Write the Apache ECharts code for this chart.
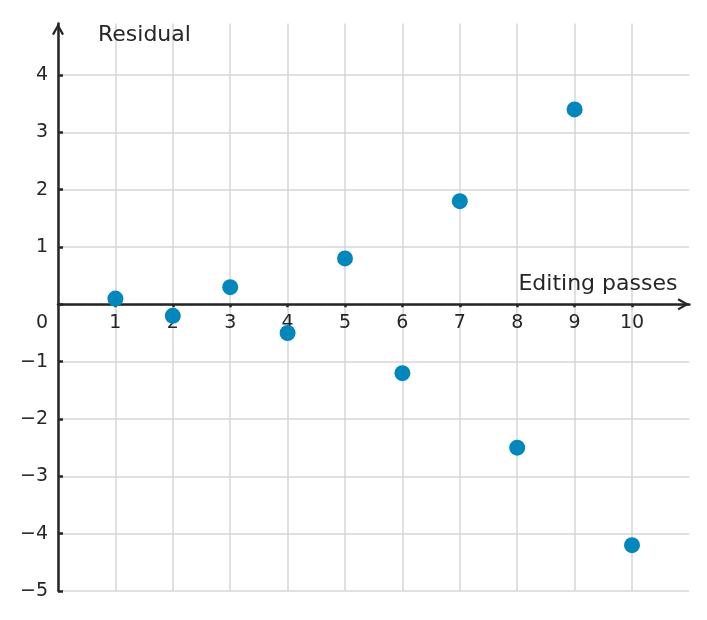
<!DOCTYPE html>
<html>
<head>
<meta charset="utf-8">
<script src="https://cdn.jsdelivr.net/npm/echarts@6/dist/echarts.min.js"></script>
<style>
  html, body { margin: 0; padding: 0; background: #fff; }
  #chart { width: 707px; height: 620px; }
</style>
</head>
<body>
<div id="chart"></div>
<script>
// residual per editing pass
const passes = [1, 2, 3, 4, 5, 6, 7, 8, 9, 10];
const residuals = [0.1, -0.2, 0.3, -0.5, 0.8, -1.2, 1.8, -2.5, 3.4, -4.2];

const ink = '#262626';
const gridColor = '#d6d6d6';
const font = 'DejaVu Sans';
// open chevron, pointing up (echarts turns it to the axis direction)
const chevron = 'path://M6,0 L12,10.6 L10.1,11.8 L6,4.4 L1.9,11.8 L0,10.6 Z';

const minus = v => String(v).replace('-', '\u2212');

const yMin = -5, yMax = 4.9;
const gridTop = 23.4, gridBottom = 29, chartH = 620;

const chart = echarts.init(document.getElementById('chart'));

// x axis drawn through y = 0, labels with it: shift the bottom axis up
const plotH = chartH - gridTop - gridBottom;
const zeroShift = plotH * (0 - yMin) / (yMax - yMin);

chart.setOption({
  animation: false,
  grid: { left: 58, right: 17.6, top: gridTop, bottom: gridBottom, containLabel: false },
  xAxis: {
    type: 'value',
    min: 0,
    max: 11,
    interval: 1,
    z: 3,
    position: 'bottom',
    offset: -zeroShift,
    name: 'Editing passes',
    nameLocation: 'end',
    nameGap: -12,
    nameTextStyle: {
      fontFamily: font, fontSize: 22, color: ink,
      align: 'right', verticalAlign: 'bottom', padding: [0, 0, 9, 0]
    },
    axisLine: {
      onZero: false,
      lineStyle: { color: ink, width: 2.5 },
      symbol: ['none', chevron],
      symbolSize: [12, 12],
      symbolOffset: [0, -6]
    },
    axisTick: { show: true, inside: false, length: 3, lineStyle: { color: ink, width: 2.5 } },
    axisLabel: {
      showMinLabel: false, showMaxLabel: false,
      margin: 9, fontFamily: font, fontSize: 19, color: ink
    },
    splitLine: { show: true, showMaxLine: false, lineStyle: { color: gridColor, width: 1.5 } }
  },
  yAxis: {
    type: 'value',
    min: yMin,
    max: yMax,
    interval: 1,
    z: 3,
    name: 'Residual',
    nameLocation: 'end',
    nameGap: -12,
    nameTextStyle: {
      fontFamily: font, fontSize: 22, color: ink,
      align: 'left', verticalAlign: 'middle', padding: [0, 0, 0, 40]
    },
    axisLine: {
      lineStyle: { color: ink, width: 2.5 },
      symbol: ['none', chevron],
      symbolSize: [12, 12],
      symbolOffset: [0, -6]
    },
    axisTick: { show: true, inside: true, length: 5, lineStyle: { color: ink, width: 2.5 } },
    axisLabel: {
      showMaxLabel: false,
      margin: 10, fontFamily: font, fontSize: 19, color: ink,
      // origin label sits under the x axis
      formatter: v => (v === 0 ? '{o|0}' : minus(v)),
      rich: { o: { fontFamily: font, fontSize: 19, color: ink, padding: [38, 0, 0, 0] } }
    },
    splitLine: { show: true, showMaxLine: false, lineStyle: { color: gridColor, width: 1.5 } }
  },
  series: [
    {
      type: 'scatter',
      data: [],
      z: 1,
      silent: true,
      markLine: {
        z: 1,
        silent: true,
        symbol: 'none',
        label: { show: false },
        lineStyle: { color: '#8a8a8a', type: [6, 4], width: 1.5 },
        data: [{ yAxis: 0 }]
      }
    },
    {
      type: 'scatter',
      z: 5,
      symbolSize: 16,
      itemStyle: { color: '#0087bd', opacity: 1 },
      data: passes.map((p, i) => [p, residuals[i]])
    }
  ]
});
</script>
</body>
</html>
